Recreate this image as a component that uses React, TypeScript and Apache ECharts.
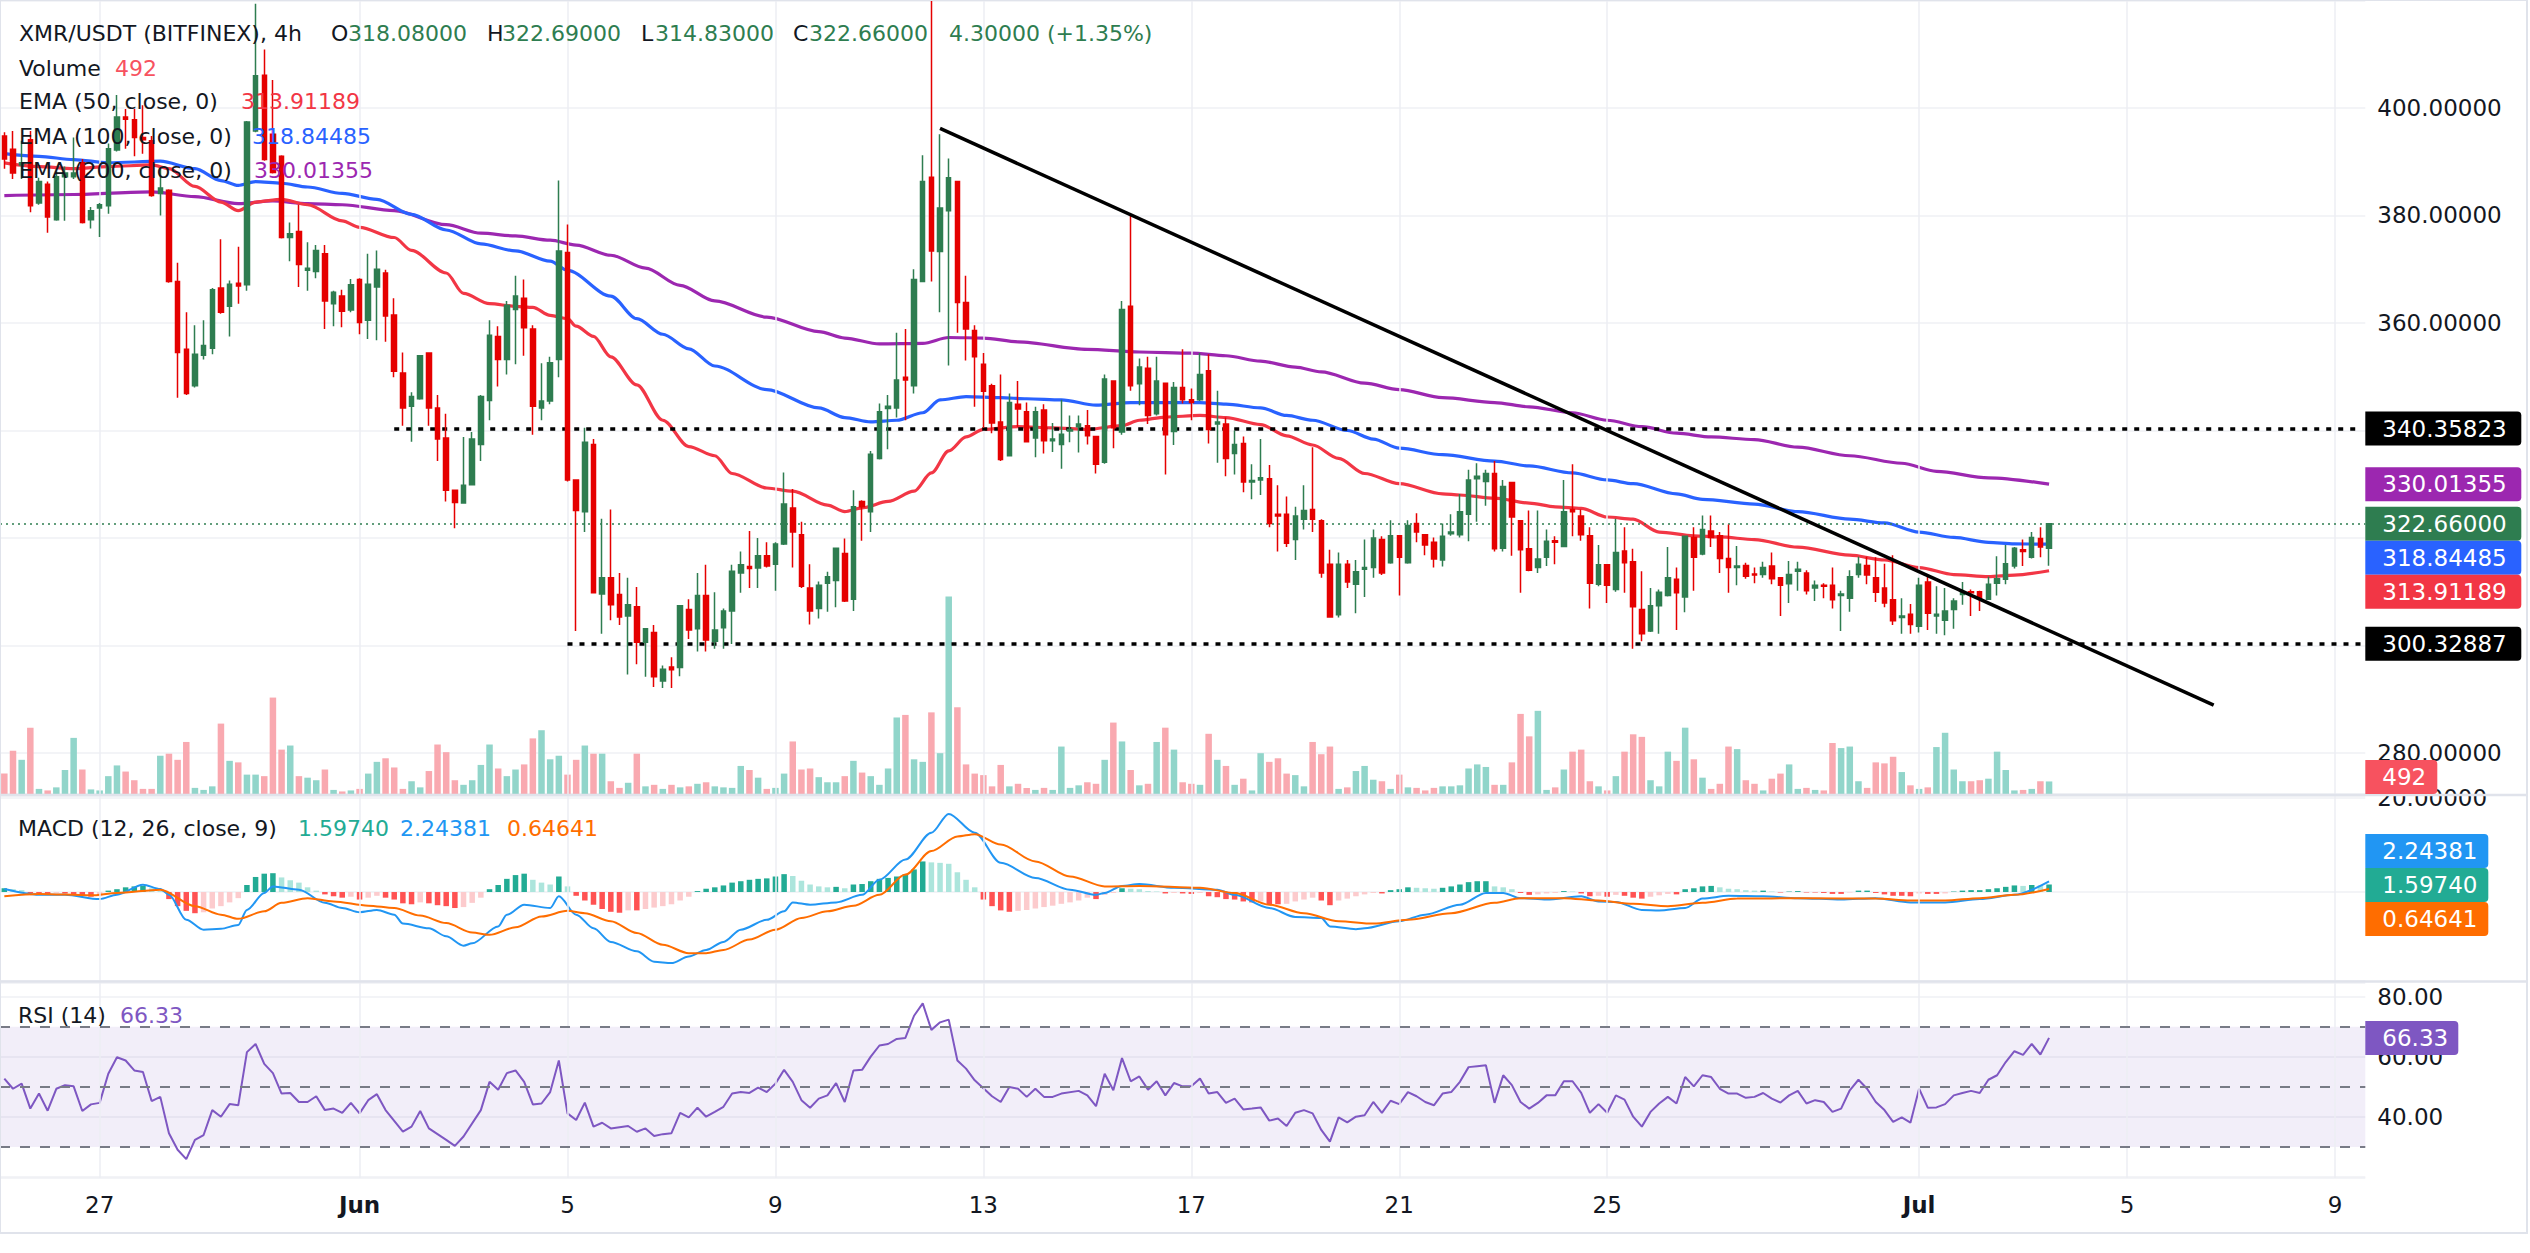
import React, { useEffect, useRef } from "react";
import * as echarts from "echarts";

// ---------------- data ----------------
const startUTC = Date.UTC(2025, 4, 25, 4, 0); // first 4h bar
const barHours = 4;
const slotCount = 273; // bars + empty space up to the right edge

// [open, high, low, close]
const ohlc: number[][] = [
  [394.8,395.5,388.7,390.5],[392.3,395.7,386.8,387.9],[389.4,393.9,386.8,389.8],[394.1,395.7,380.6,381.8],[382.3,387.0,382.0,386.3],[385.8,386.3,376.8,379.7],
  [379.2,388.2,379.0,387.2],[387.2,389.1,379.0,387.9],[387.2,394.5,386.8,387.9],[389.8,390.5,378.5,378.7],[379.2,381.6,377.6,380.9],[381.4,382.3,376.0,382.0],
  [381.8,393.4,380.3,392.4],[392.2,402.4,391.9,398.3],[398.3,399.8,392.4,397.9],[397.8,399.8,391.0,394.5],[394.5,400.5,391.5,394.1],[393.9,394.8,383.5,383.7],
  [384.1,388.7,380.0,385.1],[384.7,384.9,367.5,367.7],[367.7,371.2,346.1,354.5],[355.1,362.0,346.6,346.9],[348.3,359.6,348.0,354.2],[354.0,360.5,353.2,355.8],
  [355.3,366.5,354.2,366.2],[366.5,375.6,361.7,362.0],[363.1,367.9,357.5,367.2],[367.4,374.2,363.6,366.9],[367.1,397.6,366.0,397.4],[395.7,419.4,395.5,406.0],
  [406.1,410.9,390.2,390.4],[395.1,405.2,387.8,388.0],[391.0,391.2,375.7,375.9],[375.9,378.7,371.5,376.6],[377.0,382.0,366.7,370.9],[369.8,375.0,366.0,370.2],
  [369.6,374.5,368.3,373.5],[372.9,374.5,358.9,364.1],[363.6,366.0,359.4,365.7],[365.0,366.2,359.2,362.2],[362.4,368.2,362.0,367.1],[368.1,368.3,357.9,360.1],
  [360.5,372.9,357.0,367.2],[366.7,373.5,356.8,370.0],[369.3,369.9,356.5,361.3],[361.5,364.6,349.9,351.0],[350.7,354.5,340.9,344.2],[344.5,347.1,337.9,346.3],
  [345.9,354.0,345.7,353.9],[354.4,354.5,340.9,344.2],[344.2,346.6,334.3,338.4],[338.6,343.1,326.8,328.9],[328.9,329.0,321.8,326.6],[326.5,338.8,326.4,329.8],
  [329.9,339.7,329.8,338.4],[337.4,346.6,334.3,346.3],[345.6,360.5,341.9,357.7],[357.5,359.4,348.2,353.2],[353.2,364.1,350.4,363.3],[362.5,368.8,352.3,365.0],
  [364.6,368.1,353.9,359.1],[358.9,359.6,339.2,344.5],[344.2,352.5,341.9,345.5],[345.5,353.7,344.9,352.6],[353.2,386.5,349.9,373.4],[373.1,378.3,330.5,330.8],
  [330.8,330.9,302.7,325.1],[324.9,340.5,321.1,337.8],[337.4,338.4,309.7,309.8],[309.6,323.6,302.2,312.6],[312.6,325.3,304.7,307.6],[309.5,313.5,303.8,305.3],
  [305.5,312.6,294.6,307.6],[307.2,310.9,296.5,300.6],[300.6,303.2,294.2,303.1],[302.4,303.8,292.3,294.2],[293.4,296.3,292.1,295.6],[296.0,297.8,292.1,295.5],
  [295.9,307.5,294.3,307.4],[306.7,308.6,301.2,302.9],[303.1,313.5,298.9,309.3],[309.3,315.0,298.9,301.0],[300.8,309.9,299.4,302.9],[303.3,306.9,299.4,306.4],
  [306.4,315.0,300.3,313.8],[313.5,317.5,309.8,315.0],[314.7,321.3,310.7,314.3],[314.4,320.0,310.7,316.7],[316.7,319.2,314.5,314.8],[315.1,319.2,310.2,318.9],
  [318.9,332.2,318.7,326.3],[325.6,329.1,314.5,321.1],[320.6,323.0,310.7,311.0],[310.7,315.1,303.9,306.4],[306.9,311.9,305.0,311.2],[311.6,313.7,306.3,312.8],
  [312.1,318.2,307.1,318.1],[317.1,319.9,308.1,308.3],[308.6,328.9,306.4,325.8],[326.8,327.0,319.5,325.8],[324.9,336.2,321.1,335.6],[334.8,345.0,334.6,343.5],
  [344.1,346.6,336.5,344.5],[344.2,358.2,342.4,349.4],[349.9,358.9,341.9,349.4],[348.3,370.0,346.9,368.1],[367.7,391.2,367.6,386.3],[387.1,421.0,367.7,373.4],
  [373.3,395.1,362.0,381.4],[380.9,390.6,352.1,387.0],[386.3,386.4,358.2,363.8],[363.8,368.8,353.0,358.9],[358.6,359.6,344.4,353.7],[352.3,354.4,340.5,347.3],
  [348.3,348.7,339.5,341.4],[341.6,350.4,334.3,334.6],[335.3,346.9,335.2,345.2],[344.9,349.2,340.7,344.0],[343.5,345.2,337.8,337.9],[338.6,344.4,335.0,343.5],
  [343.8,344.9,335.7,338.1],[338.1,341.4,336.0,338.4],[337.4,345.7,332.9,339.3],[339.9,342.8,337.8,340.2],[340.7,342.8,335.9,341.2],[340.9,343.8,337.4,339.0],
  [338.9,339.0,332.0,333.7],[334.1,350.4,333.8,349.6],[349.2,349.3,336.7,340.5],[339.7,364.1,339.2,362.5],[363.1,380.0,347.4,348.3],[348.7,353.4,344.7,351.8],
  [351.6,353.7,341.2,342.8],[343.1,353.7,342.8,349.2],[348.8,348.9,331.8,339.2],[339.8,349.0,337.3,348.0],[348.0,355.1,345.0,345.7],[345.7,347.8,341.9,345.2],
  [345.7,354.4,345.5,350.4],[351.1,354.2,337.6,340.2],[341.2,347.4,334.0,341.6],[341.2,342.4,331.5,334.8],[335.7,340.0,331.8,337.4],[337.6,338.9,328.5,330.4],
  [330.4,333.7,327.2,330.7],[330.8,338.4,328.0,331.2],[331.0,333.6,322.0,322.7],[324.4,329.8,317.5,324.1],[324.4,327.7,318.3,319.0],[319.7,325.8,315.9,324.1],
  [323.5,329.8,321.6,325.1],[325.3,336.9,321.1,323.5],[323.2,323.5,312.6,313.5],[315.1,317.8,305.2,305.3],[305.7,317.3,305.2,315.1],[315.1,315.9,310.7,311.8],
  [311.4,315.9,306.0,313.7],[314.2,319.7,309.0,314.5],[314.5,321.6,312.6,320.0],[319.7,320.3,313.1,313.5],[315.4,323.3,315.2,320.4],[320.4,320.5,309.3,316.4],
  [315.4,323.3,315.2,322.3],[322.7,324.6,319.2,321.1],[320.6,320.7,316.8,318.7],[319.2,320.1,314.5,316.1],[315.9,322.7,314.7,320.3],[320.8,324.4,320.4,321.1],
  [320.6,328.2,320.1,324.9],[324.4,332.7,319.4,330.8],[331.0,333.9,323.0,331.5],[330.5,332.7,326.0,332.0],[332.0,334.3,317.5,318.0],[318.1,330.8,317.5,329.6],
  [330.3,330.4,316.7,323.9],[323.2,323.3,309.8,317.8],[318.0,325.1,313.8,314.0],[314.5,325.1,313.5,316.1],[316.4,321.6,314.8,319.4],[319.5,320.3,315.1,319.2],
  [318.4,330.8,318.3,324.9],[325.3,333.7,320.3,324.9],[324.1,325.3,319.5,320.6],[320.4,322.0,306.9,311.6],[311.4,318.7,311.0,315.0],[315.0,315.1,307.9,311.2],
  [310.4,323.6,310.0,317.3],[317.6,322.0,309.8,315.4],[315.6,318.0,299.4,307.2],[306.7,313.8,300.8,302.2],[302.7,310.7,302.5,307.4],[307.4,310.4,302.2,309.9],
  [309.3,318.3,309.1,312.6],[312.3,314.5,302.9,309.8],[309.0,320.4,306.2,320.3],[320.1,322.0,310.2,316.4],[317.0,324.2,316.8,321.6],[321.3,324.2,318.3,320.1],
  [320.4,321.1,313.5,316.2],[316.2,322.5,309.8,314.5],[314.5,318.5,311.2,314.8],[314.9,315.4,312.4,312.9],[313.3,314.5,311.6,313.1],[313.2,315.6,312.6,314.5],
  [314.8,317.3,311.4,312.4],[312.6,312.7,305.5,311.2],[311.5,315.7,307.9,313.2],[313.8,315.6,310.2,314.2],[313.5,314.0,309.5,310.2],[310.7,312.1,308.3,311.2],
  [311.2,311.6,308.8,311.0],[311.2,314.5,306.9,308.5],[309.3,310.2,302.7,309.6],[308.8,314.0,306.3,312.8],[313.2,316.5,312.6,315.1],[314.9,316.5,311.4,313.1],
  [312.6,316.4,308.1,309.9],[310.7,315.2,307.1,307.9],[308.5,316.8,303.8,304.6],[305.2,308.8,302.2,305.5],[305.8,307.7,302.2,303.9],[303.6,312.6,302.4,311.2],
  [311.8,312.8,302.9,306.0],[305.5,311.0,302.2,305.8],[304.7,310.7,301.9,306.4],[306.7,308.8,303.1,308.3],[309.5,311.8,307.6,309.8],[310.0,310.4,305.5,309.8],
  [310.0,310.2,306.4,308.8],[308.6,312.8,308.5,311.4],[311.6,316.6,309.3,312.4],[312.3,318.7,311.4,315.2],[314.8,318.3,314.3,318.1],[317.8,319.7,314.8,317.5],
  [316.4,321.1,316.2,320.1],[319.9,322.0,316.4,318.3],[318.08,322.69,314.83,322.66],
];

const volume: number[] = [
  800,1700,1340,2600,200,140,260,940,2200,960,180,140,700,1120,880,540,200,200,1500,1580,
  1340,2040,240,160,300,2760,1300,1240,760,760,700,3780,1740,1900,700,640,540,960,160,100,
  140,200,800,1260,1400,1040,200,500,260,900,1940,1640,540,360,540,1140,1940,1000,700,960,
  1160,2180,2500,1360,1500,760,1340,1900,1580,1580,500,240,440,1580,300,360,200,360,260,300,
  400,460,300,260,240,1100,940,640,200,240,800,2060,960,1000,660,460,460,700,1300,840,
  700,360,1000,3000,3100,1360,1260,3200,1600,7740,3400,1160,800,740,300,1140,300,400,240,160,
  240,160,1860,240,340,460,400,1340,2800,2060,940,340,400,2040,2600,1740,460,400,360,2360,
  1340,1100,360,600,140,1600,1260,1400,800,740,300,2040,1560,1860,200,260,900,1100,560,500,
  200,760,260,240,140,240,300,300,340,1000,1160,1060,360,360,1240,3140,2260,3260,160,260,
  960,1660,1740,500,300,140,700,1660,2340,2240,540,300,1660,1300,2600,1360,640,200,400,1860,
  1760,540,400,140,600,800,1160,200,240,160,140,2000,1800,1860,500,240,1240,1200,1460,860,
  340,200,260,1840,2400,960,500,500,540,600,1660,940,140,160,200,500,492,
];

// moving averages read at sample bars: [bar index, value]
const ema50: number[][] = [
  [0,389.8],[4,389.1],[8,388.7],[12,389.1],[17,389.4],[19,388.7],[22,385.4],[25,382.5],[27,380.9],[29,382.5],[32,383.0],[35,382.0],
  [39,379.0],[41,377.8],[45,375.9],[47,373.5],[51,369.3],[53,365.5],[56,363.6],[59,363.1],[61,362.9],[63,361.4],[65,360.8],[66,359.4],
  [68,357.5],[70,353.7],[73,348.5],[76,341.9],[79,337.0],[82,335.3],[84,332.0],[88,329.3],[91,328.7],[95,326.1],[97,324.9],[99,325.6],
  [102,326.8],[105,328.7],[107,332.1],[109,336.2],[111,338.8],[113,340.2],[117,340.7],[121,340.5],[125,340.2],[129,340.9],[131,341.9],
  [134,342.5],[138,342.8],[141,342.4],[145,341.1],[148,339.0],[151,337.3],[154,334.8],[157,332.0],[161,330.1],[166,328.2],[168,328.0],
  [172,327.4],[176,326.5],[179,325.8],[182,325.5],[185,323.9],[188,323.5],[191,321.1],[195,320.4],[198,320.2],[202,319.7],[207,318.3],
  [213,316.8],[217,315.9],[221,314.5],[225,313.2],[229,312.8],[232,313.1],[236,313.91],
];
const ema100: number[][] = [
  [0,391.5],[4,391.0],[8,390.4],[12,389.8],[18,390.1],[22,388.7],[25,386.5],[27,385.6],[29,386.3],[32,386.0],[35,385.3],[39,384.1],
  [43,383.0],[47,380.2],[51,377.3],[55,374.7],[59,373.4],[63,371.5],[65,369.8],[70,365.0],[73,360.8],[76,357.9],[79,355.2],[82,352.0],
  [88,347.6],[94,344.2],[97,342.4],[100,341.6],[103,341.9],[106,343.3],[108,345.7],[111,346.3],[115,346.1],[118,345.9],[122,345.7],
  [126,344.7],[130,345.2],[134,345.2],[138,345.2],[141,344.9],[145,344.2],[148,342.8],[151,341.9],[155,340.0],[158,338.4],[161,336.7],
  [166,335.5],[172,334.3],[176,333.4],[181,332.1],[185,330.8],[188,330.1],[193,328.2],[196,327.2],[202,326.3],[207,324.9],[213,323.5],
  [217,322.8],[221,321.1],[225,320.1],[229,319.2],[232,318.9],[236,318.84],
];
const ema200: number[][] = [
  [0,383.7],[8,383.9],[17,384.4],[22,383.5],[27,382.2],[31,382.7],[35,382.2],[39,382.0],[45,380.9],[51,378.3],[55,376.7],[59,376.2],
  [63,375.4],[66,374.5],[70,372.6],[74,370.2],[78,367.0],[82,364.1],[88,361.1],[94,358.4],[97,357.2],[101,356.1],[106,356.2],[109,357.3],
  [113,357.2],[117,356.5],[125,355.1],[131,354.6],[137,354.4],[141,353.9],[145,352.9],[149,351.8],[152,350.9],[157,348.8],[161,347.6],
  [166,346.1],[172,345.2],[176,344.4],[181,343.3],[185,341.9],[189,340.7],[193,339.5],[197,338.8],[202,338.3],[207,336.9],[213,335.3],
  [219,333.9],[223,332.4],[229,331.2],[236,330.01],
];

const macdLine: number[][] = [
  [0,0.64],[4,-0.57],[7,-0.57],[11,-1.5],[13,-0.57],[16,1.56],[18,0.64],[19,-0.57],[21,-5.9],[23,-8.0],[25,-7.8],[27,-7.0],[28,-3.8],
  [30,-0.2],[31,1.2],[34,0.5],[37,-2.3],[39,-3.4],[41,-4.3],[43,-3.8],[45,-4.8],[46,-6.7],[49,-7.7],[51,-9.4],[53,-11.4],[54,-10.9],
  [57,-7.3],[58,-4.8],[60,-2.7],[63,-3.4],[64,-0.9],[66,-4.8],[68,-7.7],[70,-10.6],[73,-12.6],[75,-14.8],[77,-15.1],[79,-13.7],[81,-12.3],
  [83,-10.6],[85,-8.0],[88,-5.9],[90,-4.1],[91,-2.2],[93,-2.7],[96,-2.2],[99,-0.6],[101,2.6],[104,6.9],[107,12.6],[109,16.6],[112,12.6],
  [115,6.2],[119,3.0],[123,0.5],[126,-0.6],[127,-0.2],[129,1.3],[131,1.7],[135,0.9],[140,0.5],[142,-0.6],[146,-3.4],[149,-5.3],[152,-5.5],
  [153,-7.3],[156,-7.9],[157,-7.7],[161,-6.2],[164,-4.8],[168,-2.7],[171,-0.2],[173,-0.2],[175,-1.3],[178,-1.6],[182,-0.9],[184,-2.0],
  [186,-2.1],[189,-3.8],[191,-3.9],[194,-3.4],[196,-1.4],[199,-0.8],[203,-0.9],[207,-1.3],[212,-1.6],[216,-1.3],[220,-2.2],[224,-2.2],
  [228,-1.5],[232,-0.6],[236,2.24],
];
const signalLine: number[][] = [
  [0,-0.9],[4,-0.4],[10,-0.7],[13,-0.2],[18,0.5],[22,-3.0],[25,-4.8],[27,-5.7],[30,-4.1],[32,-2.3],[35,-1.3],[38,-2.0],[42,-2.9],
  [45,-3.4],[48,-5.0],[51,-6.6],[54,-8.6],[56,-9.1],[59,-7.5],[62,-5.2],[65,-4.0],[67,-4.5],[70,-6.2],[73,-8.7],[76,-11.2],[79,-13.0],
  [81,-13.0],[83,-12.3],[86,-10.1],[89,-8.0],[92,-5.5],[95,-4.1],[98,-2.9],[101,-0.6],[104,3.7],[107,8.7],[110,11.8],[112,12.3],
  [115,10.1],[119,6.5],[123,3.3],[127,1.2],[131,1.3],[138,0.9],[142,-0.2],[146,-2.7],[150,-4.5],[154,-6.2],[158,-6.7],[162,-5.9],
  [167,-4.5],[172,-2.3],[175,-1.3],[180,-1.3],[184,-1.8],[188,-2.5],[192,-3.0],[196,-2.3],[200,-1.4],[208,-1.3],[216,-1.4],[220,-1.8],
  [224,-1.8],[228,-1.3],[232,-0.6],[236,0.65],
];
// MACD histogram, one value per bar
const macdHist: number[] = [
  0.8,0.6,0.4,-0.2,-0.3,-0.4,-0.2,-0.3,-0.5,-0.8,-1.0,-0.9,0.3,0.6,1.0,1.2,1.3,0.8,0.2,-1.5,
  -3.0,-4.0,-4.5,-4.3,-3.5,-3.0,-2.2,-1.3,1.5,3.2,3.9,4.0,3.1,2.5,2.0,1.0,0.3,-0.5,-0.9,-1.2,
  -1.0,-1.6,-1.2,-0.8,-1.2,-1.6,-2.4,-2.6,-2.2,-2.4,-2.8,-3.0,-3.4,-3.2,-2.3,-1.2,0.6,1.5,2.8,3.6,
  3.9,2.6,2.0,1.6,3.3,1.2,-0.8,-1.8,-2.7,-3.6,-4.2,-4.4,-3.9,-3.9,-3.6,-3.3,-3.0,-2.6,-1.8,-1.0,
  0.2,0.7,1.0,1.4,2.0,2.3,2.6,2.8,2.9,3.3,3.8,3.4,2.4,1.6,1.2,1.0,1.1,0.8,1.6,1.7,
  2.3,2.8,3.0,3.3,3.8,4.8,6.5,6.3,6.2,6.0,4.2,2.6,1.0,-1.6,-3.0,-3.9,-4.2,-4.0,-3.8,-3.5,
  -3.2,-2.9,-2.5,-2.2,-1.8,-1.2,-1.5,-0.6,-0.2,0.8,0.7,0.6,0.2,0.1,-0.3,-0.2,-0.3,-0.4,-0.2,-0.9,
  -1.1,-1.5,-1.6,-2.0,-2.2,-2.0,-2.6,-2.6,-2.5,-2.0,-1.6,-1.2,-1.8,-2.8,-1.8,-1.4,-0.9,-0.5,-0.2,-0.3,
  0.4,0.6,1.0,0.9,0.8,0.7,0.9,1.2,1.6,2.1,2.3,2.3,1.2,1.0,0.6,-0.2,-0.6,-0.5,-0.3,-0.2,
  0.2,0.1,-0.3,-0.9,-0.8,-1.0,-0.6,-0.8,-1.2,-1.4,-1.0,-0.7,-0.4,-0.5,0.6,0.8,1.2,1.3,1.0,0.7,
  0.6,0.4,0.3,0.3,0.1,-0.1,0.1,0.2,-0.1,-0.1,-0.2,-0.4,-0.4,-0.1,0.3,0.3,-0.2,-0.5,-0.8,-0.8,
  -0.9,-0.3,-0.4,-0.4,-0.3,0.1,0.3,0.4,0.4,0.6,0.8,1.1,1.4,1.3,1.5,1.4,1.6,
];

const rsi: number[][] = [
  [0,52.8],[1,49.4],[2,51.1],[3,42.8],[4,47.8],[5,42.1],[6,49.4],[7,50.6],[8,50.2],[9,42.0],[10,44.2],[11,44.7],[12,54.4],[13,59.9],
  [14,58.8],[15,55.5],[16,55.0],[17,45.3],[18,46.7],[19,34.6],[20,29.1],[21,26.0],[22,32.4],[23,34.0],[24,42.3],[25,40.1],[26,44.3],
  [27,43.9],[28,61.6],[29,64.3],[30,57.7],[31,54.6],[32,47.8],[33,48.0],[34,45.0],[35,45.0],[36,46.9],[37,42.3],[38,42.8],[39,41.4],
  [40,44.7],[41,41.2],[42,45.6],[43,47.6],[44,42.3],[46,35.1],[47,36.8],[48,42.0],[49,36.2],[51,32.4],[52,30.4],[53,33.5],[55,42.3],
  [56,51.7],[57,49.1],[58,54.6],[59,55.5],[60,51.7],[61,44.2],[62,44.5],[63,48.3],[64,58.8],[65,41.2],[66,39.0],[67,44.8],[68,36.8],
  [69,38.1],[70,36.2],[72,37.0],[73,35.1],[74,36.2],[75,33.7],[76,34.3],[77,34.6],[78,41.4],[79,39.9],[80,43.1],[81,40.1],[82,41.7],
  [83,43.4],[84,47.8],[85,48.3],[86,48.0],[87,49.8],[88,48.3],[89,51.1],[90,55.7],[91,51.7],[92,45.6],[93,43.1],[94,46.1],[95,47.2],
  [96,51.3],[97,45.0],[98,55.5],[99,55.7],[100,60.1],[101,63.8],[102,64.3],[103,66.0],[104,66.3],[105,73.7],[106,77.8],[107,69.0],
  [108,71.5],[109,72.4],[110,58.8],[111,56.1],[112,52.2],[114,46.9],[115,45.0],[116,50.0],[117,49.4],[118,46.7],[119,49.4],[120,46.7],
  [121,46.7],[122,47.8],[124,48.7],[125,47.2],[126,43.6],[127,54.4],[128,48.9],[129,59.6],[130,51.9],[131,53.5],[132,49.1],[133,51.9],
  [134,47.2],[135,51.3],[136,50.2],[137,50.2],[138,52.8],[139,47.8],[140,48.3],[141,44.7],[142,46.1],[143,42.5],[144,42.8],[145,43.2],
  [146,38.8],[147,39.5],[148,37.0],[149,41.4],[150,42.3],[151,41.2],[152,35.7],[153,31.8],[154,39.9],[155,38.2],[156,40.1],[157,40.6],
  [158,45.0],[159,41.4],[160,45.4],[161,44.3],[162,48.3],[163,46.9],[164,45.0],[165,43.9],[166,47.8],[167,48.3],[168,51.7],[169,56.6],
  [170,56.9],[171,57.2],[172,44.7],[173,53.9],[174,50.6],[175,45.0],[176,42.8],[177,44.7],[178,47.2],[179,47.2],[180,51.9],[181,51.9],
  [182,48.0],[183,41.4],[184,44.3],[185,41.4],[186,47.2],[187,45.8],[188,40.1],[189,36.8],[190,41.7],[191,44.5],[192,46.7],[193,44.5],
  [194,53.3],[195,50.2],[196,53.9],[197,53.3],[198,49.4],[199,47.8],[200,47.8],[201,46.4],[202,46.7],[203,48.0],[204,46.1],[205,44.8],
  [206,47.2],[207,48.7],[208,44.5],[209,45.6],[210,45.0],[211,41.7],[212,42.8],[213,48.9],[214,52.4],[215,49.4],[216,45.0],[217,42.3],
  [218,38.4],[219,39.9],[220,38.1],[221,49.4],[222,43.1],[223,43.2],[224,44.3],[225,47.2],[226,48.0],[227,48.7],[228,48.0],[229,52.4],
  [230,53.9],[231,58.3],[232,61.9],[233,60.7],[234,64.3],[235,60.8],[236,66.33],
];

// drawn objects
const trendLine: number[][] = [[108, 396.2], [255, 288.9]];
const resistance = { value: 340.35823, fromBar: 45 };
const support = { value: 300.32887, fromBar: 65 };
const lastPrice = 322.66;

// time-axis ticks: [month-day, label]
const dayTicks: string[][] = [
  ["05-27", "27"], ["06-01", "Jun"], ["06-05", "5"], ["06-09", "9"], ["06-13", "13"], ["06-17", "17"],
  ["06-21", "21"], ["06-25", "25"], ["07-01", "Jul"], ["07-05", "5"], ["07-09", "9"],
];
// price-scale ticks that the coloured tags cover
const hiddenPriceTicks = [420, 340, 320, 300];
const hiddenMacdTicks = [0];

const header = {
  symbol: "XMR/USDT (BITFINEX), 4h",
  o: "318.08000", h: "322.69000", l: "314.83000", c: "322.66000", chg: "4.30000 (+1.35%)",
  vol: "492",
  ema50: "313.91189", ema100: "318.84485", ema200: "330.01355",
  macdHist: "1.59740", macd: "2.24381", signal: "0.64641", rsi: "66.33",
};

// ---------------- styling ----------------
const FONT = '"DejaVu Sans", sans-serif';
const UP = "#2e7d50";
const DOWN = "#e50000";
const TEXT = "#131722";
const GRID = "#eff1f5";
const C50 = "#f23645";
const C100 = "#2962ff";
const C200 = "#9c27b0";
const CMACD = "#2196f3";
const CSIG = "#ff6d00";
const CHIST = "#22ab94";
const CRSI = "#7e57c2";

const GL = -5.74;
const GR = 164.7;
const AXX = 2365.3;

const pad = (n: number) => (n < 10 ? "0" + n : "" + n);
const cats: string[] = [];
for (let i = 0; i < slotCount; i++) {
  const d = new Date(startUTC + i * barHours * 3600 * 1000);
  cats.push(`${pad(d.getUTCMonth() + 1)}-${pad(d.getUTCDate())} ${pad(d.getUTCHours())}`);
}
const tickMap: Record<string, string> = {};
dayTicks.forEach(([k, lab]) => (tickMap[k + " 00"] = lab));

const pairs = (arr: number[][]) => arr.map(([i, v]) => [cats[i], v]);
const isHidden = (v: number, list: number[]) => list.some((h) => Math.abs(h - v) < 1e-6);

function histColor(i: number) {
  const v = macdHist[i];
  const p = i > 0 ? macdHist[i - 1] : v;
  if (v >= 0) return v >= p ? "#22ab94" : "#ace5dc";
  return v <= p ? "#ff5252" : "#fccbcd";
}

function buildOption(): any {
  const candleData = ohlc.map(([o, h, l, c]) => [o, c, l, h]);
  const volData = volume.map((v, i) => ({
    value: v,
    itemStyle: { color: ohlc[i][3] >= ohlc[i][0] ? "#91d5ca" : "#f9a9b0" },
  }));
  const histData = macdHist.map((v, i) => ({ value: v, itemStyle: { color: histColor(i) } }));
  const xBase = (gi: number, showLabels: boolean) => ({
    type: "category",
    gridIndex: gi,
    data: cats,
    boundaryGap: true,
    axisLine: { show: false },
    axisTick: { show: false },
    splitLine: { show: false },
    axisLabel: showLabels
      ? {
          show: true,
          interval: (_i: number, v: string) => !!tickMap[v],
          formatter: (v: string) => {
            const t = tickMap[v] || "";
            return t === "Jun" || t === "Jul" ? `{b|${t}}` : `{n|${t}}`;
          },
          margin: 15,
          rich: {
            b: { fontFamily: FONT, fontSize: 23, fontWeight: "bold", color: TEXT },
            n: { fontFamily: FONT, fontSize: 23, color: TEXT },
          },
        }
      : { show: false },
  });
  const yLabel = (fmt: (v: number) => string) => ({
    show: true,
    margin: 12,
    fontFamily: FONT,
    fontSize: 23,
    color: TEXT,
    showMinLabel: false,
    showMaxLabel: false,
    formatter: fmt,
  });
  const split = { show: true, lineStyle: { color: GRID, width: 1.5 } };
  return {
    animation: false,
    backgroundColor: "#ffffff",
    grid: [
      { left: GL, right: GR, top: 0, height: 794 },
      { left: GL, right: GR, top: 594, height: 200 },
      { left: GL, right: GR, top: 796, height: 185 },
      { left: GL, right: GR, top: 983, height: 195 },
      { left: GL, right: GR, top: 0, height: 1178 },
    ],
    xAxis: [xBase(0, false), xBase(1, false), xBase(2, false), xBase(3, true), xBase(4, false)],
    yAxis: [
      {
        type: "value", gridIndex: 0, position: "right", min: 272.37, max: 420.09, splitNumber: 7,
        axisLine: { show: false }, axisTick: { show: false }, splitLine: split,
        axisLabel: yLabel((v: number) => (isHidden(v, hiddenPriceTicks) ? "" : v.toFixed(5))),
      },
      { type: "value", gridIndex: 1, show: false, min: 0, max: 7840, splitLine: { show: false } },
      {
        type: "value", gridIndex: 2, position: "right", min: -18.9, max: 20.4, splitNumber: 2,
        axisLine: { show: false }, axisTick: { show: false }, splitLine: split,
        axisLabel: yLabel((v: number) => (isHidden(v, hiddenMacdTicks) ? "" : v.toFixed(5))),
      },
      {
        type: "value", gridIndex: 3, position: "right", min: 19.7, max: 84.6, splitNumber: 3,
        axisLine: { show: false }, axisTick: { show: false }, splitLine: split,
        axisLabel: yLabel((v: number) => (Math.abs(v - 20) < 0.01 ? "" : v.toFixed(2))),
      },
      { type: "value", gridIndex: 4, show: false, min: 0, max: 1, splitLine: { show: false } },
    ],
    series: [
      {
        name: "grid-v",
        type: "line",
        xAxisIndex: 4,
        yAxisIndex: 4,
        data: [],
        z: 0,
        silent: true,
        markLine: {
          silent: true,
          symbol: ["none", "none"],
          label: { show: false },
          lineStyle: { color: "#eceef3", width: 1.5, type: "solid" },
          data: dayTicks.map(([k]) => ({ xAxis: k + " 00" })),
        },
      },
      {
        name: "Volume",
        type: "bar",
        xAxisIndex: 1,
        yAxisIndex: 1,
        data: volData,
        barWidth: 6.5,
        z: 1,
      },
      {
        name: "XMR/USDT",
        type: "candlestick",
        xAxisIndex: 0,
        yAxisIndex: 0,
        data: candleData,
        barWidth: 5,
        z: 5,
        itemStyle: { color: UP, color0: DOWN, borderColor: UP, borderColor0: DOWN, borderWidth: 1.5 },
        markLine: {
          silent: true,
          symbol: ["none", "none"],
          label: { show: false },
          data: [
            [
              { coord: [cats[resistance.fromBar], resistance.value], lineStyle: { color: "#000", width: 3.5, type: [5, 7] } },
              { coord: [cats[slotCount - 1], resistance.value] },
            ],
            [
              { coord: [cats[support.fromBar], support.value], lineStyle: { color: "#000", width: 3.5, type: [5, 7] } },
              { coord: [cats[slotCount - 1], support.value] },
            ],
            { yAxis: lastPrice, lineStyle: { color: UP, width: 1.5, type: [2, 4] } },
          ],
        },
      },
      {
        name: "EMA200", type: "line", xAxisIndex: 0, yAxisIndex: 0, data: pairs(ema200),
        symbol: "none", smooth: 0.3, smoothMonotone: "x", z: 3,
        lineStyle: { color: C200, width: 3.2 },
      },
      {
        name: "EMA100", type: "line", xAxisIndex: 0, yAxisIndex: 0, data: pairs(ema100),
        symbol: "none", smooth: 0.3, smoothMonotone: "x", z: 3,
        lineStyle: { color: C100, width: 3.2 },
      },
      {
        name: "EMA50", type: "line", xAxisIndex: 0, yAxisIndex: 0, data: pairs(ema50),
        symbol: "none", smooth: 0.3, smoothMonotone: "x", z: 3,
        lineStyle: { color: C50, width: 3.2 },
      },
      {
        name: "Trend", type: "line", xAxisIndex: 0, yAxisIndex: 0, data: pairs(trendLine),
        symbol: "none", z: 6, lineStyle: { color: "#000", width: 3.5 },
      },
      {
        name: "Histogram", type: "bar", xAxisIndex: 2, yAxisIndex: 2, data: histData,
        barWidth: 5.5, z: 3,
      },
      {
        name: "MACD", type: "line", xAxisIndex: 2, yAxisIndex: 2, data: pairs(macdLine),
        symbol: "none", smooth: 0.3, smoothMonotone: "x", z: 4, lineStyle: { color: CMACD, width: 2 },
      },
      {
        name: "Signal", type: "line", xAxisIndex: 2, yAxisIndex: 2, data: pairs(signalLine),
        symbol: "none", smooth: 0.3, smoothMonotone: "x", z: 4, lineStyle: { color: CSIG, width: 2 },
      },
      {
        name: "RSI", type: "line", xAxisIndex: 3, yAxisIndex: 3, data: pairs(rsi),
        symbol: "none", z: 4, lineStyle: { color: CRSI, width: 2 },
        markArea: {
          silent: true,
          itemStyle: { color: "rgba(126,87,194,0.1)" },
          data: [[{ yAxis: 30 }, { yAxis: 70 }]],
        },
        markLine: {
          silent: true,
          symbol: ["none", "none"],
          label: { show: false },
          lineStyle: { color: "#787b86", width: 2, type: [10, 10] },
          data: [{ yAxis: 70 }, { yAxis: 50 }, { yAxis: 30 }],
        },
      },
    ],
  };
}

function txt(x: number, y: number, text: string, fill: string, size = 22, weight = "normal"): any {
  return {
    type: "text", x, y, z: 80, silent: true,
    style: { text, fill, fontFamily: FONT, fontSize: size, fontWeight: weight, align: "left", verticalAlign: "middle" },
  };
}

function tag(y: number, text: string, bg: string, w: number): any {
  const H = 34;
  return {
    type: "group", z: 90, silent: true,
    children: [
      { type: "rect", z: 90, shape: { x: AXX, y: y - H / 2, width: w, height: H, r: [0, 4, 4, 0] }, style: { fill: bg } },
      {
        type: "text", z: 91, x: AXX + 17, y,
        style: { text, fill: "#ffffff", fontFamily: FONT, fontSize: 23, align: "left", verticalAlign: "middle" },
      },
    ],
  };
}

function pushDown(items: any[], h: number) {
  const s = items.slice().sort((a, b) => a.y - b.y);
  for (let i = 1; i < s.length; i++) {
    if (s[i].y - s[i - 1].y < h) s[i].y = s[i - 1].y + h;
  }
  return s;
}

function buildGraphics(chart: any): any[] {
  const g: any[] = [];
  // frame & pane separators
  g.push({ type: "rect", z: 70, silent: true, shape: { x: 0, y: 0, width: 2527, height: 1233 }, style: { fill: "none", stroke: "#e0e3eb", lineWidth: 2 } });
  g.push({ type: "line", z: 70, silent: true, shape: { x1: 0, y1: 795, x2: 2527, y2: 795 }, style: { stroke: "#e0e3eb", lineWidth: 2.5 } });
  g.push({ type: "line", z: 70, silent: true, shape: { x1: 0, y1: 981.5, x2: 2527, y2: 981.5 }, style: { stroke: "#e0e3eb", lineWidth: 2.5 } });

  // legends
  g.push(txt(19, 33, header.symbol, TEXT));
  g.push(txt(331, 33, "O", TEXT)); g.push(txt(348, 33, header.o, UP));
  g.push(txt(487, 33, "H", TEXT)); g.push(txt(502, 33, header.h, UP));
  g.push(txt(641, 33, "L", TEXT)); g.push(txt(655, 33, header.l, UP));
  g.push(txt(793, 33, "C", TEXT)); g.push(txt(809, 33, header.c, UP));
  g.push(txt(949, 33, header.chg, UP));
  g.push(txt(19, 68, "Volume", TEXT)); g.push(txt(115, 68, header.vol, "#f7525f"));
  g.push(txt(19, 101, "EMA (50, close, 0)", TEXT)); g.push(txt(241, 101, header.ema50, C50));
  g.push(txt(19, 136, "EMA (100, close, 0)", TEXT)); g.push(txt(252, 136, header.ema100, C100));
  g.push(txt(19, 170, "EMA (200, close, 0)", TEXT)); g.push(txt(254, 170, header.ema200, C200));
  g.push(txt(18, 828, "MACD (12, 26, close, 9)", TEXT));
  g.push(txt(298, 828, header.macdHist, CHIST)); g.push(txt(400, 828, header.macd, CMACD)); g.push(txt(507, 828, header.signal, CSIG));
  g.push(txt(18, 1015, "RSI (14)", TEXT)); g.push(txt(120, 1015, header.rsi, CRSI));

  // price-scale tags
  const py = (v: number) => chart.convertToPixel({ yAxisIndex: 0 }, v);
  const priceTags = pushDown(
    [
      { y: py(resistance.value), t: resistance.value.toFixed(5), c: "#000000" },
      { y: py(330.01355), t: header.ema200, c: C200 },
      { y: py(lastPrice), t: header.c, c: UP },
      { y: py(318.84485), t: header.ema100, c: C100 },
      { y: py(313.91189), t: header.ema50, c: C50 },
      { y: py(support.value), t: support.value.toFixed(5), c: "#000000" },
    ],
    34
  );
  priceTags.forEach((p) => g.push(tag(p.y, p.t, p.c, 156)));

  const vy = Math.min(chart.convertToPixel({ yAxisIndex: 1 }, 492), 794 - 17);
  g.push(tag(vy, header.vol, "#f7525f", 72));

  const my = (v: number) => chart.convertToPixel({ yAxisIndex: 2 }, v);
  const mItems = [
    { y: my(2.24381), t: header.macd, c: CMACD },
    { y: my(1.5974), t: header.macdHist, c: CHIST },
    { y: my(0.64641), t: header.signal, c: CSIG },
  ];
  const meanOrig = mItems.reduce((s, a) => s + a.y, 0) / mItems.length;
  const mStack = pushDown(mItems, 34);
  const meanNew = mStack.reduce((s, a) => s + a.y, 0) / mStack.length;
  mStack.forEach((m) => g.push(tag(m.y - (meanNew - meanOrig), m.t, m.c, 123)));

  const ry = chart.convertToPixel({ yAxisIndex: 3 }, 66.33);
  g.push(tag(ry, header.rsi, CRSI, 93));
  return g;
}

export default function App() {
  const ref = useRef<HTMLDivElement>(null);
  useEffect(() => {
    const chart = echarts.init(ref.current as HTMLDivElement, null, { renderer: "svg" });
    chart.setOption(buildOption());
    chart.setOption({ graphic: buildGraphics(chart) });
    return () => chart.dispose();
  }, []);
  return (
    <div
      ref={ref}
      style={{ position: "fixed", left: 0, top: 0, width: 2530, height: 1253, background: "#ffffff" }}
    />
  );
}
